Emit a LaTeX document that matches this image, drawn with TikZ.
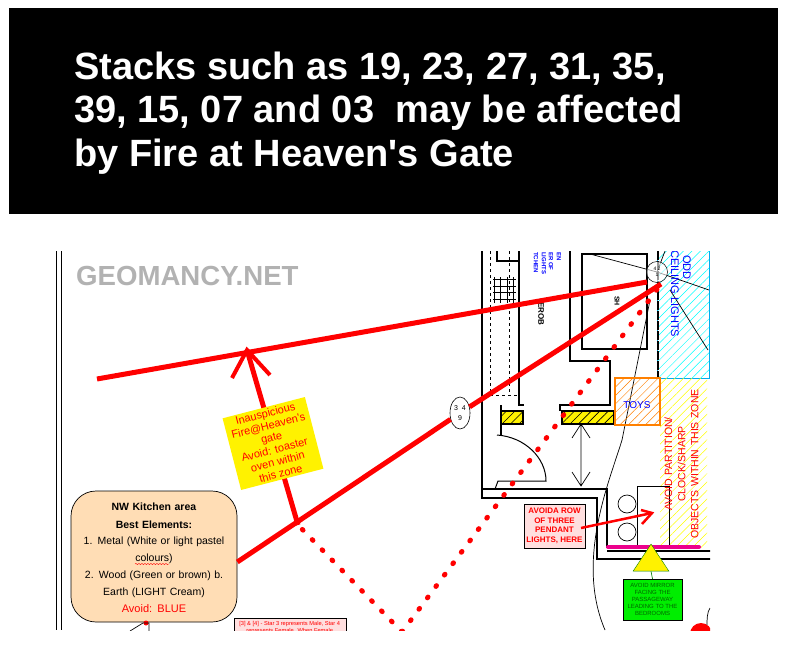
\documentclass[tikz,border=0pt]{standalone}
\usepackage{fontspec}
\setmainfont{Liberation Sans}[Ligatures=TeXOff]
\usepackage{xcolor}
\usetikzlibrary{positioning,calc,patterns.meta,arrows.meta,shapes.geometric,decorations.pathmorphing}
\definecolor{kitchenfill}{HTML}{FFDDB5}
\definecolor{planred}{HTML}{FF0000}
\definecolor{greenbox}{HTML}{00EE00}
\newcommand{\fsz}[1]{\fontsize{#1}{1.2\dimexpr #1pt\relax}\selectfont}
\newcommand{\wide}[1]{\addfontfeature{LetterSpace=#1}}
\tikzset{
    wall/.style={draw=black, line width=1.5pt},
    thinwall/.style={draw=black, line width=0.7pt},
    redline/.style={draw=planred, line width=5pt},
    reddots/.style={draw=planred, line width=5pt, line cap=round, dash pattern=on 1pt off 13.2pt},
    note/.style={draw=black, inner sep=1pt, align=center, text=planred},
    vtext/.style={rotate=-90, inner sep=0pt, text=blue},
}
\begin{document}
\begin{tikzpicture}[x=1pt, y=-1pt]
    \useasboundingbox (0,0) rectangle (786,663);
    \fill[white] (0,0) rectangle (786,663);
    % title banner
    \fill[black] (9,8) rectangle (778,214);
    \node[anchor=north west, inner sep=0pt, text=white, align=left, font=\bfseries\fontsize{38}{43.2}\selectfont] (title) at (74,52) {Stacks such as 19, 23, 27, 31, 35,\\39, 15, 07 and 03\ \ may be affected\\by Fire at Heaven's Gate};
    \begin{scope}
    \clip (50,251) rectangle (710,630);
    % hatched zones
    \path[pattern={Lines[angle=45,distance=6pt,line width=0.5pt]}, pattern color=cyan] (657,251) rectangle (709,378);
    \draw[cyan, line width=1pt] (657,251) -- (657,378) -- (709,378) -- (709,251);
    \path[pattern={Lines[angle=45,distance=6pt,line width=0.5pt]}, pattern color=yellow] (660,378) rectangle (707,547);
    % plan walls
    \draw[thinwall] (56,251) -- (56,630);
    \draw[thinwall] (61,251) -- (61,630);
    \draw[wall] (482,251) -- (482,498) -- (597,498) -- (597,559) -- (712,559);
    \draw[wall] (519,251) -- (519,405) -- (524,405);
    \draw[thinwall, dashed] (490,251) -- (490,395) -- (519,395);
    \draw[thinwall, dashed] (509,251) -- (509,395);
    \draw[wall] (497,251) -- (497,261) -- (519,261);
    \draw[step=6.5pt, thinwall, line width=1pt] (493,277) grid (516,303);
    \draw[wall] (582,254) rectangle (647,349);
    \draw[wall] (570,251) -- (570,361) -- (610,361) -- (610,405) -- (560,405) -- (560,411);
    \draw[wall] (482,489) -- (607,489) -- (607,548);
    \draw[wall] (607,551) -- (712,551);
    \draw[wall, dashed, dash pattern=on 9pt off 1pt] (658,251) -- (658,378);
    \draw[wall] (501,405) -- (501,411) (501,424) -- (501,435);
    \draw[thinwall] (622,440) .. controls (610,480) and (575,560) .. (605,630);
    \draw[thinwall] (622,440) -- (650,300);
    \draw[thinwall] (657,272) -- (665,251) (657,272) -- (709,290) (670,290) -- (708,350);
    \draw[thinwall] (657,272) -- (590,254);
    % door and clearance arrow
    \draw[thinwall, line width=1pt] (497,435) .. controls (525,437) and (546,458) .. (546,481) -- (498,481) -- (495,489);
    \draw[thinwall] (581,424) -- (581,486) (572,472) -- (581,486) -- (590,472) (572,438) -- (581,424) -- (590,438);
    \fill[yellow] (501,411) rectangle (523,424);
    \path[pattern={Lines[angle=45,distance=6pt,line width=0.6pt]}, pattern color=black] (501,411) rectangle (523,424);
    \draw[wall] (501,411) rectangle (523,424);
    \fill[yellow] (562,411) rectangle (614,424);
    \path[pattern={Lines[angle=45,distance=6pt,line width=0.6pt]}, pattern color=black] (562,411) rectangle (614,424);
    \draw[wall] (562,411) rectangle (614,424);
    % fixtures
    \draw[thinwall, line width=1pt] (637,486) rectangle (669,546);
    \node[draw, thinwall, circle, minimum size=18pt, inner sep=0pt] (lampa) at (627,504) {};
    \node[draw, thinwall, circle, minimum size=18pt, inner sep=0pt] (lampb) at (627,532) {};
    \draw[draw=magenta, line width=4pt, line cap=round] (608,547) -- (699,547);
    \node[draw=orange, line width=1.5pt, minimum width=45pt, minimum height=47pt, inner sep=0pt, pattern={Lines[angle=45,distance=6pt,line width=0.5pt]}, pattern color=orange] (toysbox) at (637.5,401.5) {};
    \node[text=blue, font=\fsz{10}\wide{0.1}] (toys) at (637,405) {TOYS};
    % stars
    \node[draw, ellipse, fill=white, line width=0.6pt, minimum width=20pt, minimum height=32pt, inner sep=0pt, align=center, font=\fsz{7}] (starsa) at (460,413) {3\ \ 4\\[2pt]9};
    \node[draw, circle, line width=0.5pt, fill=white, fill opacity=0.6, text opacity=1, minimum size=21pt, inner sep=0pt, align=center, font=\fsz{5}] (starsb) at (657,272) {4\ 2\\1};
    % labels on plan
    \node[text=gray!60, font=\bfseries\fsz{27.6}, inner sep=0pt, anchor=west] (brand) at (76,276) {GEOMANCY.NET};
    \node[vtext, font=\fsz{11}\wide{0.1}, anchor=west] (odd) at (687,255) {ODD};
    \node[vtext, font=\fsz{11}\wide{0.1}, anchor=west] (ceiling) at (675,250) {CEILING LIGHTS};
    \node[vtext, font=\bfseries\fsz{6}, anchor=west] (lbla) at (536,252) {TCHEN};
    \node[vtext, font=\bfseries\fsz{6}, anchor=west] (lblb) at (544,252) {LIGHTS};
    \node[vtext, font=\bfseries\fsz{6}, anchor=west] (lblc) at (551,252) {ER OF};
    \node[vtext, font=\bfseries\fsz{6}, anchor=west] (lbld) at (559,252) {EN};
    \node[vtext, text=black, font=\bfseries\fsz{8}, anchor=west] (lble) at (541,302) {EROB};
    \node[vtext, text=black, font=\bfseries\fsz{7}] (lblf) at (617,301) {SH};
    \node[rotate=90, inner sep=0pt, text=planred, align=center, font=\fsz{10.5}, text width=150pt] (avoidzone) at (681.5,464) {AVOID PARTITION/\\[0.5pt]CLOCK/SHARP\\[0.5pt]OBJECTS WITHIN THIS ZONE};
    % red sight lines
    \coordinate (farend) at (97,379);
    \coordinate (gate) at (647,282);
    \coordinate (apex) at (247,350);
    \coordinate (bottomdot) at (402,632);
    \coordinate (dotstop) at (661,284);
    \node[draw, rounded corners=25pt, fill=kitchenfill, line width=0.7pt, minimum width=166pt, minimum height=131pt, inner sep=0pt] (kitchen) at (154,556.5) {};
    \draw[redline] (farend) -- (gate);
    \draw[redline] (kitchen.north east |- 0,562) -- (starsa);
    \draw[redline] (starsa) -- (dotstop);
    \draw[redline] (apex) -- (298,525);
    \draw[redline, line width=4pt] (232,378) -- (apex) -- (270,375);
    \draw[reddots] (bottomdot) -- (dotstop);
    \draw[reddots] (bottomdot) -- (298,525);
    % notes
    \node[fill=yellow, minimum width=85pt, minimum height=74pt, inner sep=0pt, rotate=14.5, text=planred, align=center, font=\fontsize{11}{12.4}\selectfont\wide{0.08}] (firenote) at (273,443.5) {Inauspicious\\Fire@Heaven's\\gate\\Avoid: toaster\\oven within\\this zone};
    \node[anchor=north, inner sep=0pt, align=center, font=\fsz{10.5}, text width=160pt] (kitchentext) at (kitchen.north) {\rule{0pt}{10pt}\\[-3pt]\textbf{NW Kitchen area}\\[5pt]\textbf{Best Elements:}\\[4.2pt]1. Metal (White or light pastel\\[4.2pt]colours)\\[4.2pt]2. Wood (Green or brown) b.\\[4.2pt]Earth (LIGHT Cream)\\[4.2pt]\textcolor{planred}{\fsz{11}Avoid: BLUE}};
    \draw[planred, line width=0.4pt, decorate, decoration={snake, amplitude=0.6pt, segment length=3pt}] (135,564) -- (169,564);
    \node[note, fill=pink!50, minimum width=61pt, minimum height=44pt, font=\bfseries\fsz{8}\wide{0.05}] (pendant) at (554.5,526) {AVOIDA ROW\\OF THREE\\PENDANT\\LIGHTS, HERE};
    \draw[redline, line width=2.5pt] (581,528) -- (652,513);
    \draw[redline, line width=2.5pt] (641,510) -- (652,513) -- (642,524);
    \node[draw=green!50!black, isosceles triangle, isosceles triangle apex angle=67, shape border rotate=90, fill=yellow, minimum height=27pt, inner sep=0pt] (mirrortri) at (651,561.5) {};
    \node[draw=black, fill=greenbox, minimum width=59pt, minimum height=41pt, inner sep=0pt, align=center, text=green!40!black, font=\fsz{6}] (mirror) at (652.5,599.5) {AVOID MIRROR\\FACING THE\\PASSAGEWAY\\LEADING TO THE\\BEDROOMS};
    \draw[green!50!black, line width=0.6pt] (mirrortri.south) -- (mirror.north);
    \node[anchor=north west, draw=black, fill=pink!50, inner sep=1pt, minimum width=112pt, minimum height=20pt, align=center, text=planred, font=\fsz{5.7}] (starnote) at (233.5,617.5) {[3] \& [4] - Star 3 represents Male, Star 4\\represents Female. When Female};
    % bottom fragments
    \fill[planred] (701,634) circle (11pt);
    \draw[thinwall] (710,608) .. controls (707,612) and (707,620) .. (707,625);
    \fill[planred] (146,623) circle (2.5pt);
    \draw[thinwall] (130,631) -- (143,623) -- (149,623) -- (149,631);
    \end{scope}
\end{tikzpicture}
\end{document}
